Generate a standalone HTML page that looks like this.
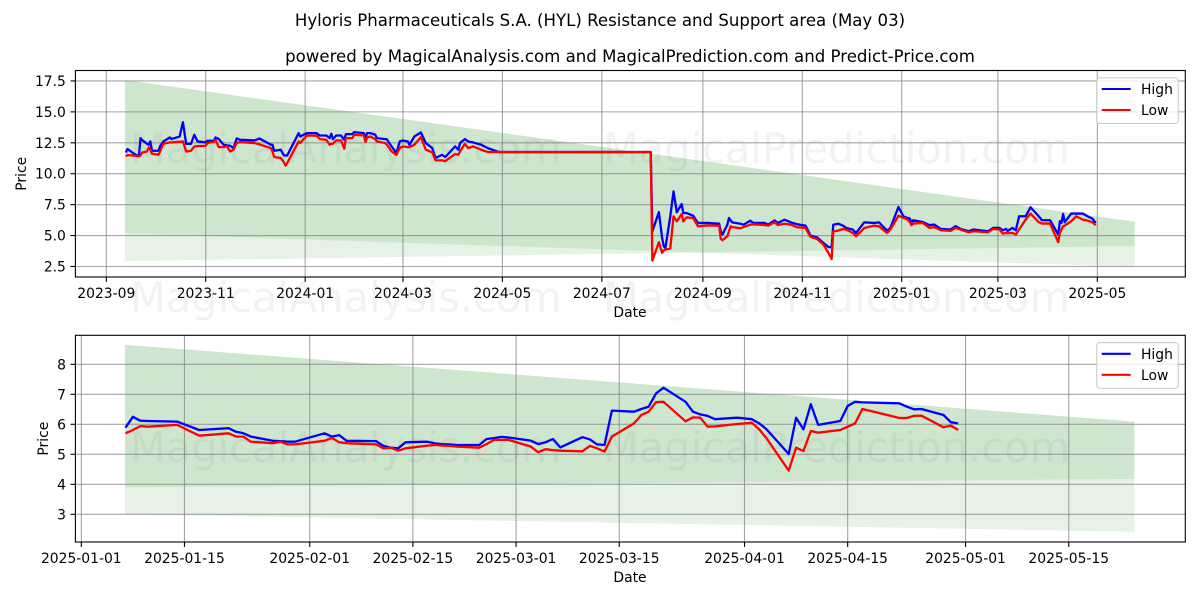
<!DOCTYPE html>
<html>
<head>
<meta charset="utf-8">
<title>Hyloris Pharmaceuticals S.A. (HYL) Resistance and Support area</title>
<style>
html,body{margin:0;padding:0;background:#fff;}
svg{display:block;font-family:"DejaVu Sans","Liberation Sans",sans-serif;}
text{fill:#000;}
.wm{font-size:41.5px;fill:rgba(128,128,128,.1);}
</style>
</head>
<body>
<svg id="chart" xmlns="http://www.w3.org/2000/svg" width="1200" height="600" viewBox="0 0 1200 600">
<rect x="0" y="0" width="1200" height="600" fill="#fff"/>
<text x="600" y="26" text-anchor="middle" font-size="16.6">Hyloris Pharmaceuticals S.A. (HYL) Resistance and Support area (May 03)</text>
<text x="630" y="62" text-anchor="middle" font-size="16.6">powered by MagicalAnalysis.com and MagicalPrediction.com and Predict-Price.com</text>
<g id="panels"></g>
</svg>
<script>
// ---------- top panel data (days since 2023-09-01) ----------
const topTickDays = [0,61,122,182,243,304,366,427,488,547,608];
const topTickLabels = ['2023-09','2023-11','2024-01','2024-03','2024-05','2024-07','2024-09','2024-11','2025-01','2025-03','2025-05'];
const topYTicks = [2.5,5,7.5,10,12.5,15,17.5];
const topYLabels = ['2.5','5.0','7.5','10.0','12.5','15.0','17.5'];
const topBandDays = [11.5,631];
const topBandUpper = [17.58,6.12];
const topBandLowerA = [5.17,2.46];
const topBandLowerB = [2.94,4.16];
const topDays = [12,13,18,20,21,22,25,26,27,28,32,33,35,39,40,45,47,49,52,54,56,61,62,66,67,69,72,74,76,78,80,82,91,94,101,102,103,107,109,110,111,118,119,123,129,131,135,137,138,139,141,144,146,147,151,152,158,159,160,162,
165,166,171,172,175,178,180,182,185,186,189,193,196,200,202,206,208,214,216,217,220,222,225,230,234,241,334,
335,339,341,342,343,346,348,350,353,354,356,360,363,370,376,377,378,381,382,383,384,389,391,395,397,404,406,410,412,416,420,424,429,432,436,440,443,445,446,449,452,454,458,460,465,471,474,479,481,486,
489,491,493,494,495,501,505,508,512,518,521,524,529,532,541,544,548,550,552,553,556,558,560,564,567,572,574,579,584,585,586,587,588,592,595,599,602,605,607];
const topHigh = [11.72,11.99,11.53,11.45,12.88,12.72,12.42,12.34,12.61,11.86,11.86,12.21,12.61,12.93,12.80,13.01,14.17,12.42,12.42,13.15,12.61,12.53,12.66,12.66,12.93,12.80,12.34,12.29,12.26,12.07,12.85,12.74,12.69,12.85,12.34,12.34,11.86,11.94,11.48,11.48,11.48,13.28,13.01,13.28,13.28,13.09,13.09,12.88,13.23,12.80,13.09,13.09,12.74,13.20,13.20,13.36,13.28,12.88,13.28,13.28,
13.15,12.88,12.80,12.80,12.21,11.67,12.61,12.69,12.61,12.34,13.01,13.34,12.48,12.07,11.27,11.53,11.35,12.21,11.94,12.48,12.80,12.61,12.53,12.34,12.07,11.75,11.75,
5.34,6.90,4.81,4.13,4.00,6.55,8.57,6.88,7.55,6.82,6.82,6.61,6.02,6.02,5.96,5.34,5.08,5.88,6.42,6.23,6.07,5.96,5.88,6.20,6.02,6.02,5.88,6.23,6.02,6.28,6.07,5.91,5.80,5.00,4.86,4.40,4.08,4.05,5.88,5.96,5.80,5.61,5.48,5.21,6.07,6.02,6.07,5.40,5.61,7.31,
6.56,6.45,6.37,6.02,6.24,6.10,5.84,5.89,5.54,5.49,5.76,5.54,5.35,5.49,5.35,5.62,5.62,5.43,5.54,5.38,5.62,5.43,6.56,6.56,7.29,6.56,6.24,6.24,5.08,6.16,6.02,6.75,6.08,6.78,6.78,6.78,6.56,6.37,6.02];
const topLow = [11.40,11.51,11.45,11.40,11.48,11.72,11.80,12.13,11.94,11.62,11.53,11.80,12.42,12.53,12.53,12.58,12.61,11.80,11.86,12.21,12.23,12.26,12.48,12.58,12.74,12.15,12.15,12.21,11.80,11.94,12.48,12.56,12.48,12.37,12.07,11.80,11.35,11.27,10.92,10.65,10.86,12.61,12.48,13.09,13.07,12.80,12.74,12.34,12.42,12.42,12.69,12.69,12.02,12.88,12.88,13.15,13.09,12.56,12.93,13.01,
12.80,12.61,12.48,12.39,11.80,11.53,12.07,12.21,12.15,12.15,12.34,12.96,11.94,11.72,11.08,11.08,11.02,11.59,11.53,11.80,12.42,12.07,12.21,11.94,11.75,11.75,11.75,
2.98,4.46,3.60,3.81,3.87,3.95,6.55,6.15,6.74,6.15,6.47,6.42,5.75,5.83,5.80,4.73,4.62,4.94,5.34,5.75,5.69,5.59,5.69,5.88,5.91,5.85,5.80,6.07,5.85,5.96,5.88,5.67,5.61,4.89,4.73,4.27,3.60,3.11,5.34,5.40,5.53,5.48,5.21,4.94,5.61,5.80,5.75,5.21,5.48,6.61,
6.43,6.35,6.08,5.84,5.97,6.02,5.62,5.68,5.43,5.38,5.62,5.49,5.27,5.35,5.27,5.54,5.49,5.16,5.22,5.19,5.22,5.08,5.49,6.29,6.78,6.08,5.97,5.97,4.47,5.22,5.49,5.76,5.81,6.16,6.56,6.29,6.21,6.08,5.84];

// ---------- bottom panel data (days since 2025-01-01) ----------
const botTickDays = [0,14,31,45,59,73,90,104,120,134];
const botTickLabels = ['2025-01-01','2025-01-15','2025-02-01','2025-02-15','2025-03-01','2025-03-15','2025-04-01','2025-04-15','2025-05-01','2025-05-15'];
const botYTicks = [3,4,5,6,7,8];
const botYLabels = ['3','4','5','6','7','8'];
const botBandDays = [5.93,142.9];
const botBandUpper = [8.65,6.09];
const botBandLowerA = [3.0,2.42];
const botBandLowerB = [3.9,4.18];
const botDays = [6,7,8,9,13,16,20,21,22,23,26,27,28,29,33,34,35,36,40,41,42,43,44,47,48,49,50,51,54,55,56,57,58,61,62,63,64,65,68,69,70,71,72,75,76,77,78,79,82,83,84,85,86,89,91,92,93,96,97,98,99,100,103,104,105,106,111,112,113,114,117,118,119];
const botHigh = [5.89,6.25,6.12,6.11,6.09,5.81,5.87,5.75,5.70,5.59,5.45,5.44,5.42,5.42,5.70,5.59,5.64,5.45,5.44,5.28,5.22,5.20,5.40,5.42,5.365,5.34,5.33,5.31,5.31,5.51,5.54,5.58,5.56,5.455,5.34,5.40,5.51,5.23,5.57,5.50,5.33,5.31,6.455,6.42,6.51,6.59,7.03,7.22,6.75,6.42,6.33,6.28,6.17,6.22,6.17,6.03,5.83,5.01,6.22,5.83,6.67,5.98,6.11,6.61,6.75,6.73,6.70,6.59,6.50,6.51,6.31,6.07,6.03];
const botLow = [5.70,5.81,5.94,5.92,5.98,5.62,5.70,5.59,5.59,5.42,5.37,5.42,5.33,5.33,5.45,5.55,5.40,5.37,5.33,5.20,5.22,5.12,5.20,5.29,5.31,5.29,5.28,5.255,5.22,5.34,5.48,5.48,5.48,5.255,5.07,5.17,5.14,5.12,5.10,5.28,5.20,5.09,5.59,6.03,6.31,6.42,6.74,6.75,6.10,6.23,6.22,5.92,5.93,6.01,6.05,5.83,5.53,4.455,5.22,5.11,5.78,5.72,5.81,5.92,6.03,6.51,6.21,6.21,6.28,6.29,5.90,5.955,5.81];

const NS = 'http://www.w3.org/2000/svg';
const root = document.getElementById('panels');
function mk(parent, tag, attrs, txt) {
  const e = document.createElementNS(NS, tag);
  for (const k in attrs) e.setAttribute(k, attrs[k]);
  if (txt !== undefined) e.textContent = txt;
  parent.appendChild(e);
  return e;
}
function pts(xs, ys, fx, fy) {
  return xs.map(function (d, i) { return fx(d).toFixed(2) + ',' + fy(ys[i]).toFixed(2); }).join(' ');
}
function drawBand(g, days, up, low, fx, fy) {
  const upper = pts(days, up, fx, fy);
  const lower = pts(days.slice().reverse(), low.slice().reverse(), fx, fy);
  return mk(g, 'polygon', { points: upper + ' ' + lower, fill: 'rgba(0,128,0,0.1)' });
}
function drawPanel(p) {
  const g = mk(root, 'g', {});
  
  
  const bandA = drawBand(g, p.bandDays, p.bandUpper, p.bandLowerA, p.fx, p.fy);
  
  
  const bandB = drawBand(g, p.bandDays, p.bandUpper, p.bandLowerB, p.fx, p.fy);
  
  

  p.xDays.forEach(function (d, i) {
    const x = p.fx(d);
    const grid = mk(g, 'line', { x1: x, x2: x, y1: p.top, y2: p.bottom, stroke: 'rgba(128,128,128,0.7)', 'stroke-width': 1.1 });
    
    
    const tick = mk(g, 'line', { x1: x, x2: x, y1: p.bottom, y2: p.bottom + 4.9, stroke: '#000', 'stroke-width': 1.1 });
    
    
    const lab = mk(g, 'text', { x: x, y: p.bottom + 21, 'text-anchor': 'middle', 'font-size': 13.89 }, p.xLabels[i]);
    
    
  });
  p.yTicks.forEach(function (v, i) {
    const y = p.fy(v);
    const grid = mk(g, 'line', { x1: p.left, x2: p.right, y1: y, y2: y, stroke: 'rgba(128,128,128,0.7)', 'stroke-width': 1.1 });
    
    
    const tick = mk(g, 'line', { x1: p.left - 4.9, x2: p.left, y1: y, y2: y, stroke: '#000', 'stroke-width': 1.1 });
    
    
    const lab = mk(g, 'text', { x: p.left - 9.5, y: y + 5, 'text-anchor': 'end', 'font-size': 13.89 }, p.yLabels[i]);
    
    
  });
  p.watermarks.forEach(function (w) {
    const t = mk(g, 'text', { x: w.x, y: w.y, class: 'wm' }, w.text);
    
    
  });
  const high = mk(g, 'polyline', { points: pts(p.days, p.high, p.fx, p.fy), fill: 'none', stroke: '#0000ff', 'stroke-width': 2.3, 'stroke-linejoin': 'round' });
  
  
  const low = mk(g, 'polyline', { points: pts(p.days, p.low, p.fx, p.fy), fill: 'none', stroke: '#ff0000', 'stroke-width': 2.3, 'stroke-linejoin': 'round' });
  
  

  const frame = mk(g, 'rect', { x: p.left, y: p.top, width: p.right - p.left, height: p.bottom - p.top, fill: 'none', stroke: '#000', 'stroke-width': 1.1 });
  
  

  const xt = mk(g, 'text', { x: 630, y: p.bottom + 40, 'text-anchor': 'middle', 'font-size': 13.89 }, 'Date');
  
  
  const yc = (p.top + p.bottom) / 2;
  const yt = mk(g, 'text', { x: p.yTitleX, y: yc, 'text-anchor': 'middle', 'font-size': 13.89, transform: 'rotate(-90 ' + p.yTitleX + ' ' + yc + ')' }, 'Price');
  
  

  const leg = mk(g, 'g', {});
  
  
  const ly = p.top + 7.3;
  const box = mk(leg, 'rect', { x: 1096.7, y: ly, width: 81.5, height: 45.7, rx: 3, fill: 'rgba(255,255,255,0.8)', stroke: '#ccc', 'stroke-width': 1.1 });
  
  
  const hl = mk(leg, 'line', { x1: 1101.7, x2: 1130.7, y1: ly + 11.2, y2: ly + 11.2, stroke: '#0000ff', 'stroke-width': 2.08 });
  
  
  const ht = mk(leg, 'text', { x: 1141, y: ly + 16.2, 'font-size': 13.89 }, 'High');
  
  
  const ll = mk(leg, 'line', { x1: 1101.7, x2: 1130.7, y1: ly + 32.2, y2: ly + 32.2, stroke: '#ff0000', 'stroke-width': 2.08 });
  
  
  const lt = mk(leg, 'text', { x: 1141, y: ly + 37.2, 'font-size': 13.89 }, 'Low');
  
  
}

drawPanel({
  id: 'top', left: 75.4, right: 1185.3, top: 70.5, bottom: 277, yTitleX: 26,
  fx: function (d) { return 106.3 + d * 1.63; },
  fy: function (v) { return 266.5 - (v - 2.5) * 12.37; },
  xDays: topTickDays, xLabels: topTickLabels, yTicks: topYTicks, yLabels: topYLabels,
  bandDays: topBandDays, bandUpper: topBandUpper, bandLowerA: topBandLowerA, bandLowerB: topBandLowerB,
  days: topDays, high: topHigh, low: topLow,
  watermarks: [
    { x: 130, y: 163, text: 'MagicalAnalysis.com' },
    { x: 603, y: 163, text: 'MagicalPrediction.com' },
    { x: 130, y: 312, text: 'MagicalAnalysis.com' },
    { x: 603, y: 312, text: 'MagicalPrediction.com' }
  ]
});
drawPanel({
  id: 'bottom', left: 75.4, right: 1185.3, top: 335.3, bottom: 542, yTitleX: 48,
  fx: function (d) { return 81.3 + d * 7.369; },
  fy: function (v) { return 364.3 + (8 - v) * 30; },
  xDays: botTickDays, xLabels: botTickLabels, yTicks: botYTicks, yLabels: botYLabels,
  bandDays: botBandDays, bandUpper: botBandUpper, bandLowerA: botBandLowerA, bandLowerB: botBandLowerB,
  days: botDays, high: botHigh, low: botLow,
  watermarks: [
    { x: 130, y: 462, text: 'MagicalAnalysis.com' },
    { x: 603, y: 462, text: 'MagicalPrediction.com' }
  ]
});
</script>
</body>
</html>
